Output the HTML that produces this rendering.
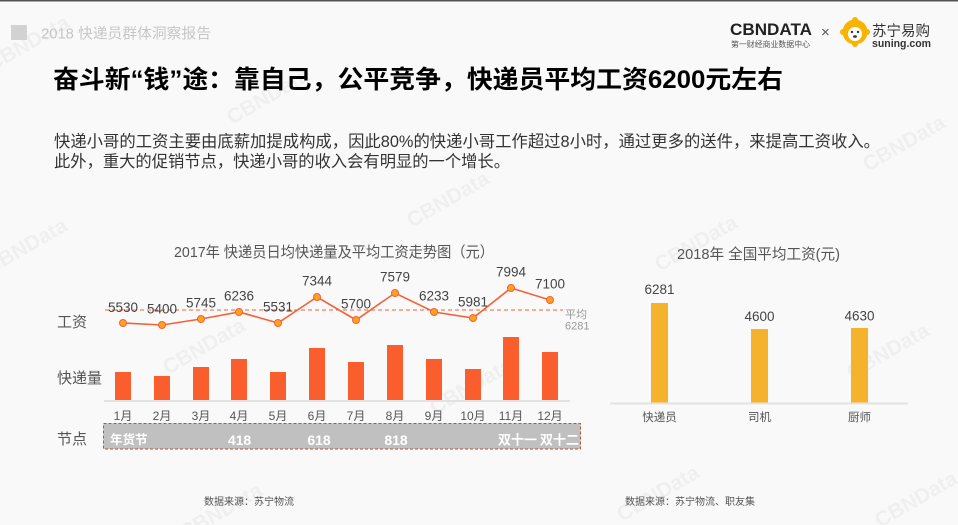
<!DOCTYPE html>
<html>
<head>
<meta charset="utf-8">
<style>
  html,body{margin:0;padding:0;background:#f9f9f9;}
  body{width:958px;height:525px;overflow:hidden;position:relative;}
  svg{position:absolute;left:0;top:0;}
  text{font-family:"Liberation Sans","Noto Sans CJK SC",sans-serif;}
</style>
</head>
<body>
<svg width="958" height="525" viewBox="0 0 958 525" xmlns="http://www.w3.org/2000/svg">
  <rect x="0" y="0" width="958" height="525" fill="#f9f9f9"/>
  <rect x="0" y="0" width="958" height="1.5" fill="#555"/>

  <!-- watermarks -->
  <g fill="#000" fill-opacity="0.04" font-weight="bold" font-size="21">
    <text x="-8" y="72" transform="rotate(-30 -8 72)">CBNData</text>
    <text x="232" y="125" transform="rotate(-30 232 125)">CBNData</text>
    <text x="-10" y="275" transform="rotate(-30 -10 275)">CBNData</text>
    <text x="168" y="375" transform="rotate(-30 168 375)">CBNData</text>
    <text x="412" y="228" transform="rotate(-30 412 228)">CBNData</text>
    <text x="660" y="272" transform="rotate(-30 660 272)">CBNData</text>
    <text x="868" y="172" transform="rotate(-30 868 172)">CBNData</text>
    <text x="852" y="380" transform="rotate(-30 852 380)">CBNData</text>
    <text x="880" y="528" transform="rotate(-30 880 528)">CBNData</text>
    <text x="622" y="522" transform="rotate(-30 622 522)">CBNData</text>
    <text x="435" y="415" transform="rotate(-30 435 415)">CBNData</text>
    <text x="185" y="540" transform="rotate(-30 185 540)">CBNData</text>
  </g>

  <!-- header -->
  <rect x="11" y="25" width="16" height="15" fill="#d2d2d2"/>
  <text x="41" y="38.5" font-size="14.5" fill="#c6c6c6" textLength="170" lengthAdjust="spacingAndGlyphs">2018 快递员群体洞察报告</text>

  <!-- logos -->
  <text x="730" y="35" font-size="16.7" font-weight="bold" fill="#222" textLength="82" lengthAdjust="spacingAndGlyphs">CBNDATA</text>
  <text x="731" y="47" font-size="7.9" fill="#555" textLength="79" lengthAdjust="spacingAndGlyphs">第一财经商业数据中心</text>
  <text x="821" y="37" font-size="15" fill="#555">×</text>
  <g>
    <circle cx="855" cy="32" r="12.5" fill="#f7b500"/>
    <circle cx="855" cy="20" r="3" fill="#f7b500"/>
    <circle cx="855" cy="44" r="3" fill="#f7b500"/>
    <circle cx="843" cy="32" r="3" fill="#f7b500"/>
    <circle cx="867" cy="32" r="3" fill="#f7b500"/>
    <circle cx="855" cy="34" r="7" fill="#fff"/>
    <circle cx="852" cy="32" r="1.2" fill="#333"/>
    <circle cx="858" cy="32" r="1.2" fill="#333"/>
    <ellipse cx="855" cy="36.5" rx="2" ry="1.3" fill="#333"/>
  </g>
  <text x="872" y="36" font-size="14.5" fill="#333" textLength="58" lengthAdjust="spacingAndGlyphs">苏宁易购</text>
  <text x="872" y="47" font-size="11" font-weight="bold" fill="#333" textLength="59" lengthAdjust="spacingAndGlyphs">suning.com</text>

  <!-- title -->
  <text x="53" y="88" font-size="25" font-weight="bold" fill="#000" textLength="730" lengthAdjust="spacingAndGlyphs">奋斗新“钱”途：靠自己，公平竞争，快递员平均工资6200元左右</text>

  <!-- paragraph -->
  <text x="54" y="147" font-size="16.3" fill="#333" textLength="826" lengthAdjust="spacingAndGlyphs">快递小哥的工资主要由底薪加提成构成，因此80%的快递小哥工作超过8小时，通过更多的送件，来提高工资收入。</text>
  <text x="54" y="167" font-size="16.3" fill="#333" textLength="456" lengthAdjust="spacingAndGlyphs">此外，重大的促销节点，快递小哥的收入会有明显的一个增长。</text>

  <!-- left chart title -->
  <text x="174" y="257" font-size="15" fill="#555" textLength="320" lengthAdjust="spacingAndGlyphs">2017年 快递员日均快递量及平均工资走势图（元）</text>

  <!-- row labels -->
  <text x="57" y="327" font-size="15" fill="#555">工资</text>
  <text x="57" y="383" font-size="15" fill="#555">快递量</text>
  <text x="57" y="444" font-size="15" fill="#555">节点</text>

  <!-- average dashed line -->
  <line x1="105" y1="310" x2="563" y2="310" stroke="#f4623a" stroke-width="1" stroke-dasharray="4,3"/>
  <text x="565" y="318" font-size="11" fill="#999">平均</text>
  <text x="565" y="329.5" font-size="11" fill="#999">6281</text>

  <!-- wage line -->
  <polyline fill="none" stroke="#f4623a" stroke-width="1.6"
    points="123,323 162,325 201,319 239,312 278,323 317,297 356,320 395,293 434,312 473,318 511,288 550,300"/>
  <g fill="#ffa21c" stroke="#f4623a" stroke-width="1">
    <circle cx="123" cy="323" r="3.5"/>
    <circle cx="162" cy="325" r="3.5"/>
    <circle cx="201" cy="319" r="3.5"/>
    <circle cx="239" cy="312" r="3.5"/>
    <circle cx="278" cy="323" r="3.5"/>
    <circle cx="317" cy="297" r="3.5"/>
    <circle cx="356" cy="320" r="3.5"/>
    <circle cx="395" cy="293" r="3.5"/>
    <circle cx="434" cy="312" r="3.5"/>
    <circle cx="473" cy="318" r="3.5"/>
    <circle cx="511" cy="288" r="3.5"/>
    <circle cx="550" cy="300" r="3.5"/>
  </g>
  <g font-size="13.5" fill="#444" text-anchor="middle">
    <text x="123" y="312">5530</text>
    <text x="162" y="313.5">5400</text>
    <text x="201" y="307.5">5745</text>
    <text x="239" y="300.5">6236</text>
    <text x="278" y="311.5">5531</text>
    <text x="317" y="285.5">7344</text>
    <text x="356" y="308.5">5700</text>
    <text x="395" y="281.5">7579</text>
    <text x="434" y="300.5">6233</text>
    <text x="473" y="306.5">5981</text>
    <text x="511" y="276.5">7994</text>
    <text x="550" y="288.5">7100</text>
  </g>

  <!-- volume bars -->
  <g fill="#fa5e2d">
    <rect x="115" y="372" width="16" height="28"/>
    <rect x="154" y="376" width="16" height="24"/>
    <rect x="193" y="367" width="16" height="33"/>
    <rect x="231" y="359" width="16" height="41"/>
    <rect x="270" y="372" width="16" height="28"/>
    <rect x="309" y="348" width="16" height="52"/>
    <rect x="348" y="362" width="16" height="38"/>
    <rect x="387" y="345" width="16" height="55"/>
    <rect x="426" y="359" width="16" height="41"/>
    <rect x="465" y="369" width="16" height="31"/>
    <rect x="503" y="337" width="16" height="63"/>
    <rect x="542" y="352" width="16" height="48"/>
  </g>
  <rect x="104" y="400" width="466" height="2" fill="#e2e2e2"/>

  <!-- months -->
  <g font-size="12" fill="#555" text-anchor="middle">
    <text x="123" y="420">1月</text>
    <text x="162" y="420">2月</text>
    <text x="201" y="420">3月</text>
    <text x="239" y="420">4月</text>
    <text x="278" y="420">5月</text>
    <text x="317" y="420">6月</text>
    <text x="356" y="420">7月</text>
    <text x="395" y="420">8月</text>
    <text x="434" y="420">9月</text>
    <text x="473" y="420">10月</text>
    <text x="511" y="420">11月</text>
    <text x="550" y="420">12月</text>
  </g>

  <!-- node strip -->
  <rect x="103.5" y="423.5" width="477" height="25.5" fill="#c0c0c0" stroke="#b5553a" stroke-width="1" stroke-dasharray="3,2"/>
  <g fill="#fff" font-weight="bold">
    <text x="110" y="444" font-size="12.5">年货节</text>
    <text x="239.5" y="445" font-size="14" text-anchor="middle">418</text>
    <text x="319" y="445" font-size="14" text-anchor="middle">618</text>
    <text x="396" y="445" font-size="14" text-anchor="middle">818</text>
    <text x="517.5" y="444.5" font-size="13" text-anchor="middle">双十一</text>
    <text x="559.5" y="444.5" font-size="13" text-anchor="middle">双十二</text>
  </g>

  <!-- right chart -->
  <text x="677" y="259" font-size="15" fill="#555" textLength="163" lengthAdjust="spacingAndGlyphs">2018年 全国平均工资(元)</text>
  <g fill="#f5b22c">
    <rect x="651" y="303" width="17" height="100"/>
    <rect x="751" y="329" width="17" height="74"/>
    <rect x="851" y="328" width="17" height="75"/>
  </g>
  <rect x="610" y="402.5" width="298" height="2" fill="#e2e2e2"/>
  <g font-size="13.5" fill="#444" text-anchor="middle">
    <text x="659.5" y="294">6281</text>
    <text x="759.5" y="321">4600</text>
    <text x="859.5" y="320.5">4630</text>
  </g>
  <g font-size="11.5" fill="#555" text-anchor="middle">
    <text x="659.5" y="421">快递员</text>
    <text x="759.5" y="421">司机</text>
    <text x="859.5" y="421">厨师</text>
  </g>

  <!-- sources -->
  <text x="204" y="505" font-size="10" fill="#555">数据来源：苏宁物流</text>
  <text x="625" y="505" font-size="10" fill="#555">数据来源：苏宁物流、职友集</text>
</svg>
</body>
</html>
